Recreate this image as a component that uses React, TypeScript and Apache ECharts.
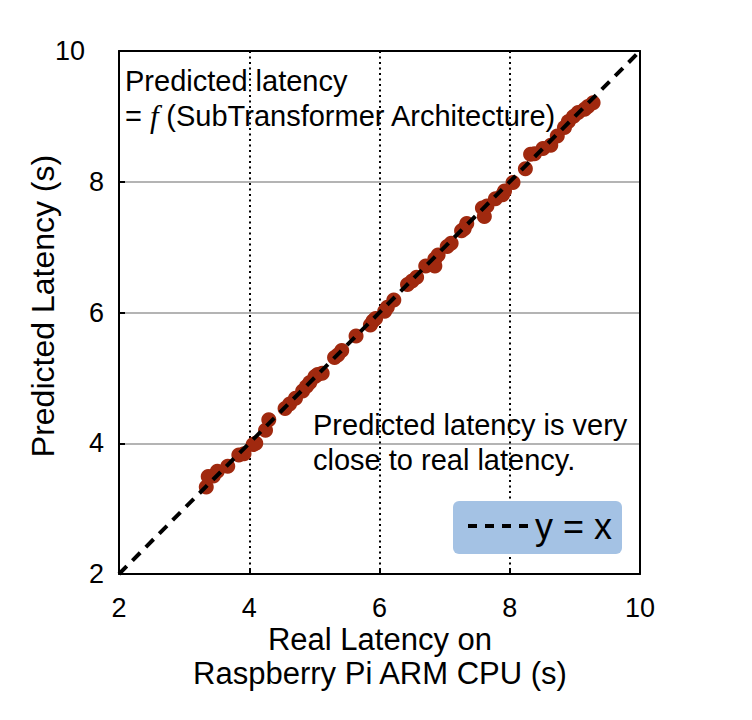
import React, { useEffect, useRef } from "react";
import * as echarts from "echarts";

const realLatency = [3.34, 3.37, 3.45, 3.51, 3.67, 3.84, 3.92, 4.06, 4.1, 4.25, 4.3, 4.55, 4.62, 4.71, 4.82, 4.88, 4.93, 5.01, 5.05, 5.12, 5.31, 5.36, 5.42, 5.64, 5.86, 5.9, 5.94, 6.08, 6.12, 6.22, 6.43, 6.5, 6.57, 6.71, 6.85, 6.85, 6.9, 7.04, 7.1, 7.26, 7.3, 7.34, 7.58, 7.61, 7.65, 7.78, 7.89, 7.92, 8.05, 8.24, 8.32, 8.38, 8.51, 8.63, 8.73, 8.84, 8.9, 8.98, 9.05, 9.15, 9.2, 9.28];
const predictedLatency = [3.33, 3.49, 3.5, 3.57, 3.65, 3.82, 3.84, 3.98, 4.0, 4.2, 4.36, 4.53, 4.6, 4.69, 4.8, 4.87, 4.93, 5.02, 5.05, 5.07, 5.31, 5.35, 5.42, 5.64, 5.81, 5.87, 5.91, 6.02, 6.08, 6.19, 6.43, 6.48, 6.54, 6.71, 6.82, 6.71, 6.88, 7.01, 7.06, 7.25, 7.28, 7.36, 7.6, 7.47, 7.63, 7.74, 7.8, 7.86, 7.99, 8.2, 8.42, 8.43, 8.51, 8.56, 8.7, 8.83, 8.92, 9.0, 9.06, 9.11, 9.15, 9.21];
const identityLine = [[2, 2], [10, 10]];
const ticks = [2, 4, 6, 8, 10];

const FONT = "'Liberation Sans', Arial, Helvetica, sans-serif";

export default function App() {
  const ref = useRef<HTMLDivElement>(null);
  useEffect(() => {
    if (!ref.current) return;
    const chart = echarts.init(ref.current, undefined, { renderer: "svg" });
    const points = realLatency.map((x, i) => [x, predictedLatency[i]]);
    const axisCommon = {
      type: "value",
      min: ticks[0],
      max: ticks[ticks.length - 1],
      interval: 2,
    };
    chart.setOption({
      animation: false,
      backgroundColor: "#ffffff",
      grid: { left: 119, right: 112, top: 51, bottom: 146, containLabel: false },
      xAxis: [
        {
          ...axisCommon,
          position: "bottom",
          axisLine: { show: true, lineStyle: { color: "#000", width: 2 } },
          axisTick: { show: true, inside: true, length: 6, lineStyle: { color: "#000", width: 2 } },
          axisLabel: { color: "#000", fontSize: 27, fontFamily: FONT, margin: 20 },
          splitLine: { show: true, lineStyle: { color: "#000", width: 2, type: [2, 3.5] } },
        },
        {
          ...axisCommon,
          position: "top",
          axisLine: { show: true, lineStyle: { color: "#000", width: 2 } },
          axisTick: { show: false },
          axisLabel: { show: false },
          splitLine: { show: false },
        },
      ],
      yAxis: [
        {
          ...axisCommon,
          position: "left",
          axisLine: { show: true, lineStyle: { color: "#000", width: 2 } },
          axisTick: { show: true, inside: true, length: 6, lineStyle: { color: "#000", width: 2 } },
          axisLabel: {
            color: "#000",
            fontSize: 27,
            fontFamily: FONT,
            margin: 15,
            formatter: (v: number) => (v === 10 ? "{a|10}" : String(v)),
            rich: { a: { fontSize: 27, fontFamily: FONT, color: "#000", padding: [0, 19, 0, 0] } },
          },
          splitLine: { show: true, lineStyle: { color: "#b4b4b4", width: 2, type: "solid" } },
        },
        {
          ...axisCommon,
          position: "right",
          axisLine: { show: true, lineStyle: { color: "#000", width: 2 } },
          axisTick: { show: false },
          axisLabel: { show: false },
          splitLine: { show: false },
        },
      ],
      series: [
        {
          type: "scatter",
          data: points,
          symbol: "circle",
          symbolSize: 15,
          itemStyle: { color: "#A0290F", opacity: 1 },
          z: 3,
        },
        {
          type: "line",
          data: identityLine,
          symbol: "none",
          lineStyle: { color: "#000", width: 4, type: [11, 8] },
          z: 4,
        },
      ],
      graphic: [
        {
          type: "text",
          x: 125,
          y: 81,
          z: 10,
          style: { text: "Predicted latency", fontSize: 29, fontFamily: FONT, fill: "#000", align: "left", verticalAlign: "middle" },
        },
        {
          type: "text",
          x: 125,
          y: 116,
          z: 10,
          style: {
            text: "{n|= }{f|f }{n|(SubTransformer Architecture)}",
            align: "left",
            verticalAlign: "middle",
            rich: {
              n: { fontSize: 29, fontFamily: FONT, fill: "#000" },
              f: { fontSize: 31, fontFamily: "'Liberation Serif', 'Times New Roman', serif", fontStyle: "italic", fill: "#000" },
            },
          },
        },
        {
          type: "text",
          x: 313,
          y: 425,
          z: 10,
          style: { text: "Predicted latency is very", fontSize: 29, fontFamily: FONT, fill: "#000", align: "left", verticalAlign: "middle" },
        },
        {
          type: "text",
          x: 313,
          y: 460,
          z: 10,
          style: { text: "close to real latency.", fontSize: 29, fontFamily: FONT, fill: "#000", align: "left", verticalAlign: "middle" },
        },
        {
          type: "rect",
          shape: { x: 453, y: 501, width: 169, height: 53, r: 6 },
          style: { fill: "#a4c2e4" },
          z: 9,
        },
        {
          type: "line",
          shape: { x1: 468, y1: 526, x2: 528, y2: 526 },
          style: { stroke: "#000", lineWidth: 4, lineDash: [9, 8] },
          z: 10,
        },
        {
          type: "text",
          x: 535,
          y: 526,
          z: 10,
          style: { text: "y = x", fontSize: 36, fontFamily: FONT, fill: "#000", align: "left", verticalAlign: "middle" },
        },
        {
          type: "text",
          x: 43,
          y: 306,
          rotation: Math.PI / 2,
          z: 10,
          style: { text: "Predicted Latency (s)", fontSize: 32, fontFamily: FONT, fill: "#000", align: "center", verticalAlign: "middle" },
        },
        {
          type: "text",
          x: 380,
          y: 639,
          z: 10,
          style: { text: "Real Latency on", fontSize: 31, fontFamily: FONT, fill: "#000", align: "center", verticalAlign: "middle" },
        },
        {
          type: "text",
          x: 380,
          y: 673,
          z: 10,
          style: { text: "Raspberry Pi ARM CPU (s)", fontSize: 31, fontFamily: FONT, fill: "#000", align: "center", verticalAlign: "middle" },
        },
      ],
    });
    return () => chart.dispose();
  }, []);
  return <div ref={ref} style={{ width: 752, height: 720, position: "absolute", left: 0, top: 0 }} />;
}
